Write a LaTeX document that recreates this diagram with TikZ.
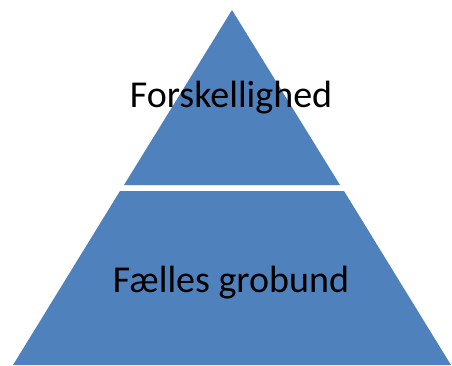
\documentclass[tikz,border=0pt]{standalone}
\usepackage{fontspec}
\setmainfont{Carlito}
\definecolor{pyrblue}{HTML}{4F81BD}
\begin{document}
\begin{tikzpicture}[x=1pt,y=-1pt,
  tier/.style={fill=pyrblue, draw=none},
  lbl/.style={anchor=base, font=\fontsize{38}{42}\selectfont, text=black, inner sep=0pt}]
\useasboundingbox (0,0) rectangle (452,365);
\coordinate (apex) at (232,10);
\coordinate (tl) at (124,185);
\coordinate (tr) at (340,185);
\coordinate (bl0) at (120,191);
\coordinate (br0) at (344,191);
\coordinate (bl) at (13,365);
\coordinate (br) at (451,365);
\fill[tier] (apex) -- (tr) -- (tl) -- cycle;
\fill[tier] (bl0) -- (br0) -- (br) -- (bl) -- cycle;
\node[lbl] (top) at (231,107) {Forskellighed};
\node[lbl] (bot) at (231,292) {Fælles grobund};
\end{tikzpicture}
\end{document}
